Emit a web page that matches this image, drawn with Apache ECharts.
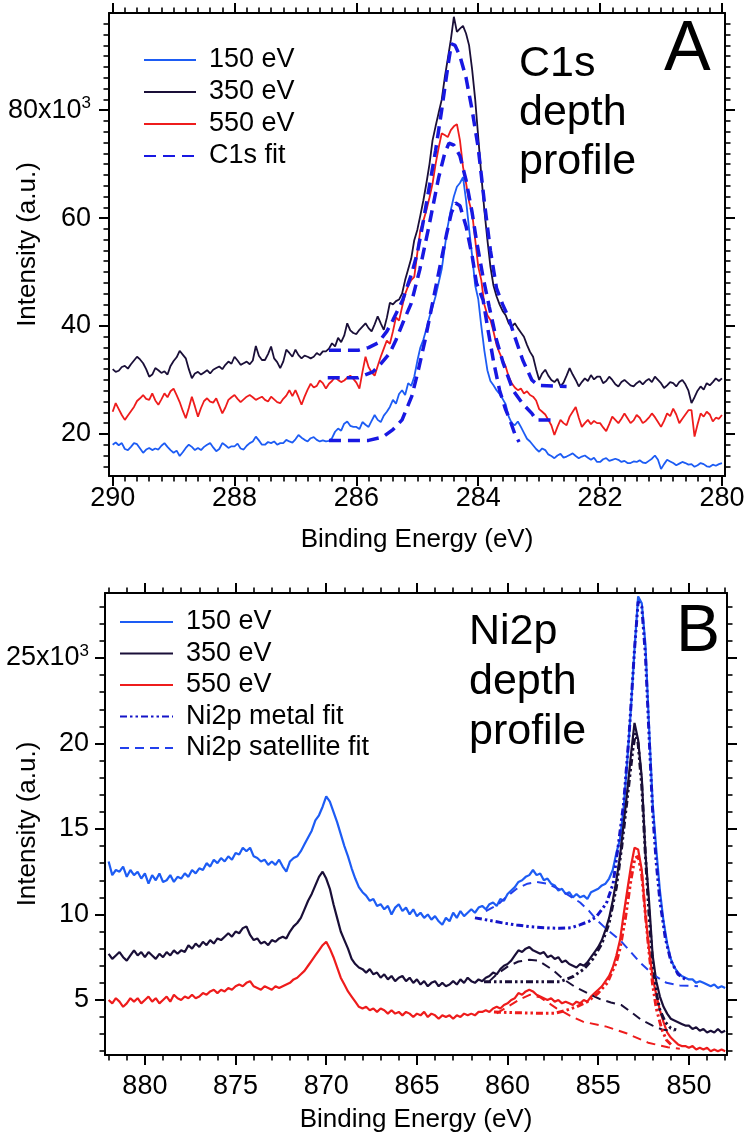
<!DOCTYPE html>
<html><head><meta charset="utf-8">
<script src="https://cdn.jsdelivr.net/npm/echarts@6/dist/echarts.min.js"></script>
<style>html,body{margin:0;padding:0;background:#fff}#c{width:745px;height:1139px}</style>
</head><body><div id="c"></div>
<script>
// ---------- Panel A : C1s (energies 290 -> 280 eV, step 0.05 eV; intensities in 10^3 counts) ----------
const c1sStart = 290, c1sStep = 0.05;
const c1s150 = [
18.0,18.4,17.9,18.3,17.2,17.0,17.6,18.3,18.1,17.3,
16.5,17.1,17.4,17.0,17.3,17.1,17.8,18.3,17.6,17.0,
16.5,16.9,15.9,16.6,17.4,18.0,17.6,17.0,17.4,17.0,
17.6,18.0,18.3,17.5,16.8,17.2,18.3,17.9,17.4,17.7,
17.7,18.2,17.3,17.1,17.8,18.3,18.6,19.5,18.8,18.0,
18.0,18.5,18.3,18.6,18.0,18.3,18.3,18.9,18.6,18.4,
19.0,19.8,19.3,18.9,18.6,19.2,19.4,18.9,18.6,18.8,
18.6,18.7,19.2,20.4,21.0,20.6,21.9,22.3,21.5,21.3,
21.3,20.9,22.2,21.7,21.3,22.4,23.5,22.6,22.2,23.4,
24.1,25.0,26.3,25.6,27.4,28.1,27.2,29.4,28.9,30.6,
33.5,36.0,37.5,39.5,41.7,43.5,45.5,48.0,50.5,54.5,
58.5,61.5,64.0,65.8,66.5,67.6,63.3,58.0,53.0,47.5,
45.0,40.0,35.5,31.8,29.8,29.0,28.1,27.4,26.5,25.5,
23.2,22.0,21.6,22.3,21.3,20.2,19.1,18.6,17.9,17.2,
16.7,17.3,17.0,16.2,15.9,15.5,16.0,16.3,15.6,15.8,
16.1,16.4,15.9,15.5,15.8,16.0,15.6,15.2,15.6,14.8,
14.8,15.3,15.5,15.0,15.2,15.4,15.2,14.8,15.0,14.6,
14.6,14.9,14.8,15.1,14.7,14.6,15.0,15.4,16.0,15.2,
13.5,14.4,15.2,14.9,14.6,14.2,14.5,14.8,14.6,14.3,
14.4,13.9,14.2,14.6,14.4,14.0,13.9,14.3,14.1,14.4,
14.6];
const c1s350 = [
32.0,31.5,31.7,32.4,32.6,32.1,32.9,33.6,34.3,33.8,
33.1,32.0,30.6,31.0,32.2,31.8,31.3,31.6,31.0,32.6,
33.5,34.2,35.4,34.7,34.0,32.0,30.3,31.2,31.5,31.0,
31.4,31.8,31.2,31.9,32.2,32.5,32.0,32.8,33.4,33.0,
34.3,33.6,32.8,33.1,33.4,32.9,33.6,36.3,34.5,33.7,
33.7,34.8,36.2,34.0,33.3,32.2,33.4,35.6,35.0,34.3,
35.6,34.6,34.0,34.5,34.3,34.0,34.3,35.0,34.6,35.3,
35.3,35.8,36.8,36.2,37.8,37.0,38.2,40.5,39.2,38.7,
38.5,39.3,39.9,40.5,39.6,39.0,40.3,41.8,40.5,39.3,
41.5,44.3,44.0,44.6,44.9,46.0,48.5,50.5,52.5,55.9,
57.8,60.5,63.3,66.5,70.0,74.4,77.0,79.5,81.9,86.0,
89.5,93.0,97.3,94.5,95.1,95.6,94.2,92.0,87.5,82.0,
75.0,68.0,61.5,56.0,51.0,47.5,45.5,44.0,42.8,42.0,
40.5,39.9,40.5,39.6,38.8,38.0,36.5,35.2,34.3,32.0,
30.0,31.2,31.9,30.8,30.0,29.6,30.2,28.8,29.5,30.8,
32.2,31.0,30.0,28.8,29.6,30.3,29.8,30.9,30.1,30.6,
30.6,29.4,29.8,30.6,30.0,29.2,28.8,29.6,30.0,29.5,
29.0,28.8,29.4,29.8,29.2,29.8,30.2,29.6,30.6,30.0,
29.4,28.5,29.0,29.6,29.4,28.8,29.6,30.0,29.2,28.0,
25.7,26.8,28.0,28.8,28.2,29.4,29.0,29.6,30.3,29.8,
30.3];
const c1s550 = [
24.1,25.7,24.6,23.5,22.6,23.4,24.2,25.0,26.1,26.6,
27.2,26.5,26.3,27.5,26.2,25.4,26.4,27.5,26.8,27.9,
28.4,27.2,25.9,24.3,22.9,24.8,26.9,25.1,23.2,24.8,
26.1,26.6,26.0,25.8,26.6,25.2,23.8,24.9,26.3,26.8,
27.2,26.5,25.9,26.4,26.9,27.2,26.8,26.3,26.6,26.9,
26.3,26.0,26.9,26.4,25.9,25.7,26.5,27.1,28.1,27.0,
28.1,26.8,25.4,26.9,28.2,29.3,28.6,28.9,29.9,29.4,
28.4,29.3,29.8,30.5,30.0,29.6,29.9,30.4,30.8,30.2,
29.5,28.4,31.5,34.3,32.4,31.4,30.8,32.6,34.3,35.8,
37.3,36.7,39.0,41.6,41.0,43.5,45.9,47.4,48.5,49.1,
53.5,57.8,59.5,61.5,63.8,66.4,70.0,73.0,75.7,75.4,
75.0,76.3,77.0,77.4,74.4,69.5,66.5,63.0,60.9,56.0,
51.0,48.5,44.0,42.0,41.1,39.0,36.5,35.0,33.7,32.5,
30.6,29.4,28.6,28.1,28.4,27.5,27.9,27.2,26.9,26.2,
24.6,24.1,23.6,22.6,21.6,19.8,21.3,22.6,22.0,21.6,
23.2,24.1,25.0,23.0,21.3,22.0,22.6,21.8,22.4,22.0,
22.0,21.2,20.5,21.8,23.2,22.6,22.0,22.8,23.8,22.9,
22.0,22.5,23.5,23.0,22.0,22.4,23.0,23.8,23.1,22.2,
21.3,22.4,23.8,23.3,24.7,23.6,22.0,22.8,23.6,24.4,
24.4,19.5,21.8,23.8,23.2,24.1,23.6,22.3,23.0,22.8,
23.5];
const fit150E = [286.45,285.8,285.57,285.4,285.25,285.09,284.99,284.87,284.74,284.62,284.52,284.44,284.37,284.3,284.2,284.1,284.03,283.92,283.84,283.75,283.65,283.55,283.48,283.4,283.33];
const fit150V = [18.8,18.8,19.4,20.8,22.6,27.0,31.5,37.5,44.8,51.5,57.0,61.0,62.8,62.3,58.5,53.0,48.0,44.8,39.3,33.5,28.1,24.5,22.6,20.0,18.5];
const fit350E = [286.45,285.97,285.8,285.64,285.5,285.4,285.24,285.09,285.0,284.9,284.8,284.7,284.6,284.5,284.44,284.38,284.3,284.2,284.1,284.0,283.9,283.8,283.7,283.6,283.5,283.4,283.27,283.12,283.02,282.55];
const fit350V = [35.5,35.5,36.0,36.9,39.0,41.1,44.8,49.8,53.5,59.5,66.0,72.5,80.0,88.0,92.3,92.0,90.0,86.0,80.0,73.0,63.0,54.0,47.0,44.0,41.5,38.0,33.7,30.0,29.0,28.8];
const fit550E = [286.47,285.97,285.73,285.6,285.45,285.35,285.24,285.1,284.96,284.8,284.65,284.55,284.48,284.4,284.3,284.2,284.1,284.03,283.92,283.82,283.7,283.59,283.43,283.27,283.12,283.05,282.7];
const fit550V = [30.4,30.4,31.5,33.0,35.0,37.4,40.5,44.2,50.4,59.0,67.5,72.0,73.9,73.5,71.5,67.0,61.0,55.9,49.0,43.6,37.4,33.1,28.1,25.6,23.8,22.6,22.6];

// ---------- Panel B : Ni2p (energies 882 -> 848 eV, step 0.2 eV) ----------
const niStart = 882, niStep = 0.2;
const ni150 = [
13.1,12.3,12.6,12.5,12.8,12.2,12.6,12.3,12.5,12.1,
12.4,11.8,12.3,12.0,12.4,11.9,12.0,12.3,11.9,12.2,
12.1,12.4,12.2,12.6,12.4,12.7,12.6,13.0,12.8,13.2,
13.0,13.3,13.1,13.4,13.2,13.6,13.5,13.9,13.7,13.9,
13.4,13.3,13.1,13.2,12.9,13.1,12.9,13.2,12.8,12.5,
13.1,13.3,13.4,13.7,14.1,14.5,14.9,15.5,15.8,16.3,
16.9,16.6,16.0,15.4,14.7,14.0,13.4,12.7,12.1,11.6,
11.3,11.1,10.8,10.9,10.5,10.6,10.3,10.5,10.0,10.4,
10.6,10.2,10.4,10.0,10.3,9.9,10.1,9.8,10.0,9.7,
9.9,9.6,9.4,9.8,9.6,10.1,9.8,10.2,9.9,10.1,
10.3,10.1,10.4,10.5,10.3,10.6,10.7,10.5,10.9,10.8,
11.2,11.4,11.6,11.9,12.0,12.2,12.3,12.6,12.3,12.4,
12.0,12.1,11.8,11.7,11.4,11.5,11.2,11.3,11.0,11.2,
11.0,11.1,10.9,11.3,11.4,11.5,11.7,11.8,12.1,12.6,
13.6,14.4,16.2,19.0,22.0,25.5,28.6,28.2,25.8,21.0,
16.5,13.8,11.4,9.6,8.3,7.4,6.9,6.6,6.4,6.3,
6.2,6.2,6.0,6.1,6.0,5.9,5.8,5.9,5.7,5.8,
5.7];
const ni350 = [
7.7,7.4,7.6,7.8,7.5,7.3,7.6,7.9,7.6,7.8,
7.5,7.8,7.6,7.4,7.7,7.5,7.8,7.6,7.9,7.7,
7.9,7.8,8.2,8.0,8.3,8.1,8.4,8.2,8.5,8.3,
8.6,8.5,8.7,8.9,8.7,9.0,8.9,9.2,9.3,8.8,
8.5,8.6,8.3,8.4,8.2,8.5,8.4,8.6,8.7,8.6,
9.0,9.3,9.5,9.8,10.3,10.8,11.2,11.7,12.2,12.5,
12.1,11.5,10.6,9.8,9.0,8.5,8.0,7.4,7.1,6.9,
6.8,6.6,6.8,6.5,6.6,6.3,6.5,6.2,6.4,6.1,
6.3,6.4,6.1,6.3,6.0,6.2,5.9,6.1,5.8,6.0,
6.1,5.8,6.0,5.8,5.9,6.1,5.9,6.2,6.0,6.3,
6.1,6.0,6.2,6.1,6.3,6.4,6.6,6.5,6.8,7.0,
7.1,7.3,7.6,7.9,7.8,8.0,8.1,7.9,7.8,7.7,
7.8,7.5,7.6,7.4,7.5,7.2,7.3,7.1,7.0,6.9,
7.1,7.0,7.2,7.5,7.8,8.1,8.5,9.1,9.8,10.8,
12.0,13.4,15.3,17.2,19.3,21.2,20.2,18.0,13.6,10.8,
7.6,6.1,5.2,4.6,4.2,3.9,3.8,3.7,3.6,3.5,
3.5,3.3,3.4,3.2,3.3,3.1,3.2,3.1,3.3,3.1,
3.2];
const ni550 = [
5.0,4.8,5.1,4.9,4.6,4.8,5.1,4.9,5.1,4.8,
5.0,5.2,4.9,5.1,4.8,5.0,5.2,4.9,5.3,5.1,
5.0,5.2,5.1,5.3,5.1,5.2,5.4,5.3,5.5,5.6,
5.4,5.6,5.5,5.7,5.6,5.8,5.9,5.8,6.0,6.1,
5.8,5.7,5.6,5.8,5.7,5.6,5.8,5.7,5.8,5.9,
6.0,6.2,6.3,6.5,6.7,7.0,7.3,7.6,7.9,8.2,
8.4,8.0,7.5,6.9,6.3,5.9,5.5,5.2,4.9,4.6,
4.5,4.6,4.4,4.5,4.3,4.5,4.4,4.2,4.4,4.2,
4.3,4.1,4.3,4.2,4.0,4.2,4.1,4.3,4.0,4.2,
4.1,3.9,4.1,4.0,4.1,3.9,4.1,4.0,4.2,4.1,
4.2,4.1,4.3,4.3,4.4,4.3,4.5,4.6,4.5,4.7,
4.8,5.0,5.1,5.4,5.3,5.5,5.6,5.5,5.3,5.2,
5.1,5.0,5.1,4.9,5.0,4.8,4.9,4.8,4.7,4.9,
4.8,5.0,4.9,5.2,5.4,5.6,5.8,6.1,6.4,6.9,
7.6,8.5,10.0,11.4,12.8,13.9,13.8,12.6,10.0,8.0,
6.3,5.3,4.4,3.7,3.1,2.8,2.6,2.4,2.3,2.3,
2.2,2.3,2.1,2.2,2.1,2.2,2.0,2.1,2.0,2.1,
2.0];
const metal150E = [861.8,861.0,860.25,859.5,858.78,858.0,857.12,856.5,856.02,855.5,855.1,854.55,854.18,853.9,853.6,853.3,853.0,852.8,852.6,852.4,852.2,852.0,851.8,851.6,851.3,851.0,850.6,850.2];
const metal150V = [9.8,9.65,9.5,9.38,9.29,9.22,9.19,9.22,9.39,9.6,9.87,10.65,11.8,14.0,16.5,20.5,25.5,28.3,28.0,25.2,20.5,16.0,13.0,10.8,8.6,7.3,6.5,6.2];
const sat150E = [861.2,860.5,860.1,859.5,858.9,858.4,857.8,857.2,856.6,856.0,855.5,855.1,854.5,853.8,853.2,852.7,852.0,851.24,850.5,849.5];
const sat150V = [10.2,10.6,11.0,11.5,11.8,11.9,11.8,11.5,11.1,10.7,10.2,9.7,9.1,8.5,7.8,7.2,6.5,6.0,5.85,5.8];
const metal350E = [861.3,860.0,858.5,857.1,856.4,855.8,855.3,854.8,854.4,854.0,853.7,853.4,853.1,852.95,852.8,852.6,852.4,852.2,852.0,851.8,851.6,851.3,851.0,850.7];
const metal350V = [6.07,6.07,6.07,6.07,6.36,6.8,7.4,8.3,9.5,11.6,14.0,16.8,19.6,20.6,20.0,17.5,13.5,10.0,7.2,5.4,4.4,3.7,3.35,3.25];
const sat350E = [861.0,860.6,860.0,859.4,858.8,858.3,857.5,856.9,856.3,855.6,854.9,854.3,853.72,853.2,852.62,852.0,851.43,850.8];
const sat350V = [6.1,6.5,6.95,7.25,7.35,7.3,6.75,6.2,5.78,5.4,5.05,4.85,4.7,4.3,3.83,3.5,3.25,3.2];
const metal550E = [860.75,859.5,858.0,857.4,856.75,856.2,855.6,855.0,854.5,854.0,853.8,853.5,853.2,852.98,852.8,852.6,852.4,852.2,852.0,851.8,851.5,851.24,850.9];
const metal550V = [4.3,4.25,4.22,4.22,4.4,4.6,4.9,5.4,6.0,7.2,8.0,9.8,12.0,13.3,13.4,12.3,10.0,7.8,5.9,4.5,3.3,2.66,2.3];
const sat550E = [860.6,860.0,859.3,858.78,858.2,857.3,856.5,855.84,854.55,853.45,852.25,851.16,850.5];
const sat550V = [4.22,4.6,5.05,5.3,5.15,4.51,4.05,3.73,3.44,3.05,2.5,2.23,2.15];

// ---------- Axis ticks ----------
const ticksAX = [290,288,286,284,282,280];
const ticksAY = [20,40,60,80];
const ticksBX = [880,875,870,865,860,855,850];
const ticksBY = [5,10,15,20,25];

// ---------- helpers ----------
const FONT = "'Liberation Sans', Arial, Helvetica, sans-serif";
const C150 = '#1d5cf4', C350 = '#1a0f38', C550 = '#ee1c1c', CFIT = '#1818e2', CMET = '#1414c8', CSAT = '#2240ec';
function grid(start, step, n) { const o = []; for (let i = 0; i < n; i++) o.push(+(start - step * i).toFixed(3)); return o; }
function pairs(es, vs) { return es.map((e, i) => [e, vs[i]]); }
function minorTicks(min, max, step, majors) {
  const o = []; const a = Math.ceil(min / step - 1e-9), b = Math.floor(max / step + 1e-9);
  for (let k = a; k <= b; k++) { const v = +(k * step).toFixed(4); if (v > min + 1e-6 && v < max - 1e-6 && !majors.some(m => Math.abs(m - v) < 1e-6)) o.push(v); }
  return o;
}
function axisGroup(kind, gridIndex, min, max, majors, minorStep, inverse, label, nameCfg) {
  const minors = minorTicks(min, max, minorStep, majors);
  const posA = kind === 'x' ? 'bottom' : 'left', posB = kind === 'x' ? 'top' : 'right';
  const common = { type: 'value', gridIndex, min, max, inverse, splitLine: { show: false }, axisPointer: { show: false }, z: 10 };
  const line = { show: true, onZero: false, lineStyle: { color: '#000', width: 2 } };
  const majT = { show: true, inside: false, length: 10, lineStyle: { color: '#000', width: 2 }, customValues: majors };
  const minT = { show: true, inside: false, length: 5.5, lineStyle: { color: '#000', width: 1.6 }, customValues: minors };
  const main = Object.assign({}, common, { position: posA, axisLine: line, axisTick: majT, axisLabel: label }, nameCfg);
  return [
    main,
    Object.assign({}, common, { position: posA, axisLine: { show: false }, axisTick: minT, axisLabel: { show: false } }),
    Object.assign({}, common, { position: posB, axisLine: line, axisTick: majT, axisLabel: { show: false } }),
    Object.assign({}, common, { position: posB, axisLine: { show: false }, axisTick: minT, axisLabel: { show: false } })
  ];
}
function xLabel(majors, margin) { return { show: true, customValues: majors, margin, fontSize: 27, fontFamily: FONT, color: '#000' }; }
function yLabel(majors, margin, expVal) {
  return { show: true, customValues: majors, margin, fontSize: 27, fontFamily: FONT, color: '#000',
    formatter: v => (v === expVal ? '{m|' + v + 'x10}{s|3}' : String(v)),
    rich: { m: { fontSize: 27, fontFamily: FONT, color: '#000', lineHeight: 30 }, s: { fontSize: 17, fontFamily: FONT, color: '#000', verticalAlign: 'top', lineHeight: 30, padding: [0, 0, 14, 0] } } };
}
const xName = gap => ({ name: 'Binding Energy (eV)', nameLocation: 'middle', nameGap: gap, nameMoveOverlap: false, nameTextStyle: { fontSize: 26, fontFamily: FONT, color: '#000' } });
const yName = gap => ({ name: 'Intensity (a.u.)', nameLocation: 'middle', nameGap: gap, nameRotate: 90, nameMoveOverlap: false, nameTextStyle: { fontSize: 26, fontFamily: FONT, color: '#000' } });
function ser(name, data, ax, color, width, type, z) {
  return { type: 'line', name, data, xAxisIndex: ax, yAxisIndex: ax, symbol: 'none', showSymbol: false, z,
    lineStyle: { color, width, type }, itemStyle: { color }, emphasis: { disabled: true }, silent: true, animation: false };
}

const eA = grid(c1sStart, c1sStep, c1s150.length);
const eB = grid(niStart, niStep, ni150.length);
const DASH = [12, 7], SATD = [9, 6], METD = [7, 3, 2.5, 3, 2.5, 3];
const legendCommon = { orient: 'vertical', padding: 0, itemHeight: 14, selectedMode: false,
  itemStyle: { opacity: 0, borderWidth: 0 }, lineStyle: { opacity: 1 },
  textStyle: { fontSize: 27, fontFamily: FONT, color: '#000', lineHeight: 30, padding: [0, 0, 0, 8] } };

const option = {
  animation: false,
  backgroundColor: '#fff',
  grid: [
    { left: 109, right: 20, top: 13, bottom: 663, outerBoundsMode: 'none', containLabel: false },
    { left: 105, right: 18, top: 593, bottom: 84, outerBoundsMode: 'none', containLabel: false }
  ],
  xAxis: [].concat(
    axisGroup('x', 0, 279.95, 290.06, ticksAX, 0.2, true, xLabel(ticksAX, 9), xName(51)),
    axisGroup('x', 1, 847.9, 882.2, ticksBX, 1, true, xLabel(ticksBX, 18), xName(52))
  ),
  yAxis: [].concat(
    axisGroup('y', 0, 12.2, 98.0, ticksAY, 2, false, yLabel(ticksAY, 18, 80), yName(68)),
    axisGroup('y', 1, 1.78, 28.8, ticksBY, 1, false, yLabel(ticksBY, 16, 25), yName(64))
  ),
  legend: [
    Object.assign({}, legendCommon, { left: 143, top: 45, itemGap: 2, itemWidth: 52, data: ['150 eV', '350 eV', '550 eV', 'C1s fit'] }),
    Object.assign({}, legendCommon, { left: 119, top: 607, itemGap: 1.5, itemWidth: 53, data: ['150 eV', '350 eV', '550 eV', 'Ni2p metal fit', 'Ni2p satellite fit'] })
  ],
  graphic: [
    { type: 'text', left: 664, top: 16, style: { text: 'A', fontSize: 70, fontFamily: FONT, fill: '#000' } },
    { type: 'text', left: 519, top: 40, style: { text: 'C1s\ndepth\nprofile', fontSize: 43, lineHeight: 49, fontFamily: FONT, fill: '#000' } },
    { type: 'text', left: 676, top: 600, style: { text: 'B', fontSize: 66, fontFamily: FONT, fill: '#000' } },
    { type: 'text', left: 469, top: 607, style: { text: 'Ni2p\ndepth\nprofile', fontSize: 43, lineHeight: 50, fontFamily: FONT, fill: '#000' } }
  ],
  series: [
    ser('150 eV', pairs(eA, c1s150), 0, C150, 1.8, 'solid', 2),
    ser('350 eV', pairs(eA, c1s350), 0, C350, 1.8, 'solid', 2),
    ser('550 eV', pairs(eA, c1s550), 0, C550, 1.8, 'solid', 2),
    ser('C1s fit', pairs(fit150E, fit150V), 0, CFIT, 3.5, DASH, 3),
    ser('C1s fit', pairs(fit350E, fit350V), 0, CFIT, 3.5, DASH, 3),
    ser('C1s fit', pairs(fit550E, fit550V), 0, CFIT, 3.5, DASH, 3),
    ser('150 eV', pairs(eB, ni150), 4, C150, 2.2, 'solid', 2),
    ser('350 eV', pairs(eB, ni350), 4, C350, 2.2, 'solid', 2),
    ser('550 eV', pairs(eB, ni550), 4, C550, 2.2, 'solid', 2),
    ser('Ni2p metal fit', pairs(metal150E, metal150V), 4, CMET, 3, METD, 3),
    ser('Ni2p satellite fit', pairs(sat150E, sat150V), 4, CSAT, 2, SATD, 3),
    ser('Ni2p metal fit', pairs(metal350E, metal350V), 4, C350, 3, METD, 3),
    ser('Ni2p satellite fit', pairs(sat350E, sat350V), 4, C350, 2, SATD, 3),
    ser('Ni2p metal fit', pairs(metal550E, metal550V), 4, C550, 3, METD, 3),
    ser('Ni2p satellite fit', pairs(sat550E, sat550V), 4, C550, 2, SATD, 3)
  ]
};
const chart = echarts.init(document.getElementById('c'), null, { renderer: 'canvas', width: 745, height: 1139 });
chart.setOption(option);
</script>
</body></html>
